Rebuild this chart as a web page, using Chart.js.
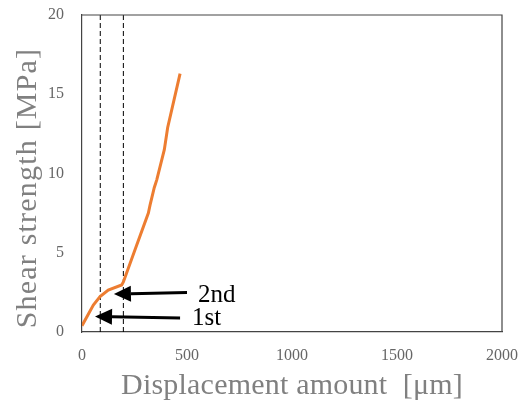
<!DOCTYPE html>
<html>
<head>
<meta charset="utf-8">
<script src="https://cdn.jsdelivr.net/npm/chart.js@4.4.1/dist/chart.umd.min.js"></script>
<style>
  html, body { margin: 0; padding: 0; background: #fff; }
  #wrap { width: 523px; height: 400px; }
</style>
</head>
<body>
<div id="wrap"><canvas id="shearChart"></canvas></div>
<script>
// displacement [um] and shear strength [MPa]
const displacement = [0, 54, 86, 125, 189, 197, 252, 316, 324, 344, 356, 392, 408, 467];
const shearStrength = [0.4, 1.7, 2.23, 2.65, 2.97, 3.16, 5.18, 7.5, 8.0, 9.1, 9.6, 11.5, 12.9, 16.3];

// dashed markers for the two stages
const stageX = [87, 197];
const stageY = [0, 20];

// arrows: [tailX, tailY, tipX, tipY] in data units, with labels
const arrowLabels = ['2nd', '1st'];
const arrowCoords = [[500, 2.49, 152, 2.4], [467, 0.88, 62, 0.98]];
const labelPos = [[552, 1.89], [524, 0.44]];

const xTicks = [0, 500, 1000, 1500, 2000];
const yTicks = [0, 5, 10, 15, 20];
const xTitle = 'Displacement amount  [\u03bcm]';
const yTitle = 'Shear strength [MPa]';

const frameAndArrows = {
    id: 'frameAndArrows',
    afterDatasetsDraw(chart) {
        const ctx = chart.ctx;
        const xs = chart.scales.x, ys = chart.scales.y;
        const a = chart.chartArea;
        ctx.save();
        // top and right border
        ctx.strokeStyle = '#444';
        ctx.lineWidth = 1.2;
        ctx.beginPath();
        ctx.moveTo(a.left, a.top);
        ctx.lineTo(a.right, a.top);
        ctx.lineTo(a.right, a.bottom);
        ctx.stroke();

        arrowCoords.forEach((c, i) => {
            const x1 = xs.getPixelForValue(c[0]), y1 = ys.getPixelForValue(c[1]);
            const x2 = xs.getPixelForValue(c[2]), y2 = ys.getPixelForValue(c[3]);
            const ang = Math.atan2(y2 - y1, x2 - x1);
            const headLen = 17, headW = 8;
            const bx = x2 - headLen * Math.cos(ang), by = y2 - headLen * Math.sin(ang);
            ctx.strokeStyle = '#000';
            ctx.lineWidth = 3;
            ctx.beginPath();
            ctx.moveTo(x1, y1);
            ctx.lineTo(bx, by);
            ctx.stroke();
            ctx.fillStyle = '#000';
            ctx.beginPath();
            ctx.moveTo(x2, y2);
            ctx.lineTo(bx + headW * Math.sin(ang), by - headW * Math.cos(ang));
            ctx.lineTo(bx - headW * Math.sin(ang), by + headW * Math.cos(ang));
            ctx.closePath();
            ctx.fill();

            ctx.font = '25px "Liberation Serif"';
            ctx.textBaseline = 'alphabetic';
            ctx.textAlign = 'left';
            ctx.fillText(arrowLabels[i], xs.getPixelForValue(labelPos[i][0]), ys.getPixelForValue(labelPos[i][1]));
        });

        // axis titles
        ctx.fillStyle = '#808080';
        ctx.textAlign = 'center';
        ctx.textBaseline = 'alphabetic';
        ctx.font = '30px "Liberation Serif"';
        ctx.letterSpacing = '0.2px';
        ctx.fillText(xTitle, (a.left + a.right) / 2, 394);
        ctx.translate(36, 188);
        ctx.rotate(-Math.PI / 2);
        ctx.letterSpacing = '1.2px';
        ctx.fillText(yTitle, 0, 0);
        ctx.restore();
    }
};

const ctx = document.getElementById('shearChart').getContext('2d');
const shearChart = new Chart(ctx, {
    type: 'scatter',
    data: {
        datasets: [
            {
                label: 'Shear strength',
                data: displacement.map((d, i) => ({ x: d, y: shearStrength[i] })),
                showLine: true,
                borderColor: '#ED7D31',
                borderWidth: 3,
                pointRadius: 0,
                tension: 0
            },
            ...stageX.map(sx => ({
                label: 'stage',
                data: stageY.map(v => ({ x: sx, y: v })),
                showLine: true,
                borderColor: '#000',
                borderWidth: 1,
                borderDash: [5, 3],
                pointRadius: 0
            }))
        ]
    },
    options: {
        responsive: true,
        maintainAspectRatio: false,
        animation: false,
        layout: { padding: { top: 15, right: 21, left: 0, bottom: 0 } },
        plugins: { legend: { display: false }, tooltip: { enabled: false } },
        scales: {
            x: {
                type: 'linear',
                min: 0,
                max: 2000,
                afterBuildTicks: scale => { scale.ticks = xTicks.map(v => ({ value: v })); },
                afterFit: scale => { scale.height = 68; scale.paddingLeft = 0; scale.paddingRight = 0; },
                grid: { display: false, drawTicks: true, tickLength: 6, tickColor: '#444' },
                border: { display: true, color: '#444', width: 1.2 },
                ticks: {
                    color: '#666',
                    font: { family: 'Liberation Serif', size: 16 },
                    padding: 8,
                    callback: v => String(v)
                }
            },
            y: {
                type: 'linear',
                min: 0,
                max: 20,
                afterBuildTicks: scale => { scale.ticks = yTicks.map(v => ({ value: v })); },
                afterFit: scale => { scale.width = 82; scale.paddingTop = 0; scale.paddingBottom = 0; },
                grid: { display: false, drawTicks: true, tickLength: 6, tickColor: '#444' },
                border: { display: true, color: '#444', width: 1.2 },
                ticks: {
                    color: '#666',
                    font: { family: 'Liberation Serif', size: 16 },
                    padding: 12,
                    callback: v => String(v)
                }
            }
        }
    },
    plugins: [frameAndArrows]
});
</script>
</body>
</html>
